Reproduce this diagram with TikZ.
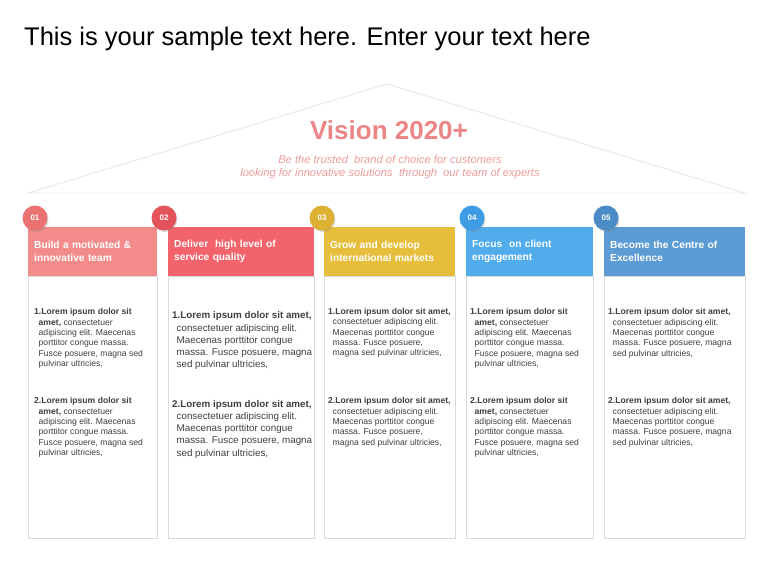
\documentclass[tikz,border=0pt]{standalone}
\usepackage{fontspec}
\setmainfont{Liberation Sans}
\usetikzlibrary{shadows}

\definecolor{headA}{HTML}{F38B8B}
\definecolor{dotA}{HTML}{EC7272}
\definecolor{headB}{HTML}{F2636B}
\definecolor{dotB}{HTML}{E4535B}
\definecolor{headC}{HTML}{E7BE3B}
\definecolor{dotC}{HTML}{DCB132}
\definecolor{headD}{HTML}{51ACEB}
\definecolor{dotD}{HTML}{3E9CE4}
\definecolor{headE}{HTML}{5B9CD4}
\definecolor{dotE}{HTML}{4B8BC6}
\definecolor{visionred}{HTML}{EC8686}
\definecolor{visionsub}{HTML}{EE9C9C}
\definecolor{bodygray}{HTML}{3F3F3F}

\newcommand{\hind}{\hspace*{4.5pt}}

\begin{document}
\begin{tikzpicture}[
        x=1pt, y=-1pt,
        roof/.style={draw=gray!18, line width=0.9pt, line join=miter},
        headbox/.style={
            shape=rectangle,
            anchor=north west,
            minimum height=49,
            inner xsep=6, inner ysep=0,
            align=left,
            text=white,
            font=\bfseries\fontsize{10.2}{13}\selectfont
        },
        bodybox/.style={
            shape=rectangle,
            anchor=north west,
            draw=gray!28, line width=0.6pt,
            fill=white,
            drop shadow={shadow xshift=0.8pt, shadow yshift=-0.8pt, opacity=0.12}
        },
        numdot/.style={
            shape=circle,
            minimum size=25,
            inner sep=0,
            text=white,
            font=\bfseries\fontsize{8}{8}\selectfont,
            drop shadow={shadow xshift=1pt, shadow yshift=-1.5pt, opacity=0.3}
        },
        bodytext/.style={
            anchor=north west,
            inner sep=0,
            align=left,
            text=bodygray,
            font=\fontsize{8.6}{10.3}\selectfont
        },
        bigtext/.style={
            bodytext,
            font=\fontsize{9.8}{12.2}\selectfont
        }
    ]

    \useasboundingbox (0,0) rectangle (768,576);

    % TITLE
    \node[anchor=base west, inner sep=0, font=\fontsize{25.5}{30}\selectfont] (title)
        at (24,45) {This is your sample text here. Enter your text here};

    % ROOF
    \coordinate (roofL) at (28,193);
    \coordinate (roofT) at (387,84);
    \coordinate (roofR) at (745,193);
    \draw[roof] (roofL) -- (roofT) -- (roofR) -- cycle;

    \node[text=visionred, font=\bfseries\fontsize{26}{28}\selectfont] (vision)
        at (389,130) {Vision 2020+};
    \node[text=visionsub, align=center, font=\itshape\fontsize{11.2}{13}\selectfont] (motto)
        at (390,167.5) {Be the trusted \ brand of choice for customers\\
                      looking for innovative solutions \ through \ our team of experts};

    % COLUMN 1
    \node[bodybox, minimum width=129, minimum height=262] (body1) at (28,276) {};
    \node[headbox, fill=headA, text width=117] (head1) at (28,227)
        {Build a motivated \&\\innovative team};
    \node[numdot, fill=dotA] (dot1) at (35,218) {01};
    \node[bodytext] (txt1a) at (34,308.5) {\textbf{1.Lorem ipsum dolor sit}\\
        \hind\textbf{amet,} consectetuer\\
        \hind adipiscing elit. Maecenas\\
        \hind porttitor congue massa.\\
        \hind Fusce posuere, magna sed\\
        \hind pulvinar ultricies,};
    \node[bodytext] (txt1b) at (34,397.5) {\textbf{2.Lorem ipsum dolor sit}\\
        \hind\textbf{amet,} consectetuer\\
        \hind adipiscing elit. Maecenas\\
        \hind porttitor congue massa.\\
        \hind Fusce posuere, magna sed\\
        \hind pulvinar ultricies,};

    % COLUMN 2
    \node[bodybox, minimum width=146, minimum height=262] (body2) at (168,276) {};
    \node[headbox, fill=headB, text width=134] (head2) at (168,227)
        {Deliver \ high level of\\service quality};
    \node[numdot, fill=dotB] (dot2) at (164,218) {02};
    \node[bigtext] (txt2a) at (172,311.5) {\textbf{1.Lorem ipsum dolor sit amet,}\\
        \hind consectetuer adipiscing elit.\\
        \hind Maecenas porttitor congue\\
        \hind massa. Fusce posuere, magna\\
        \hind sed pulvinar ultricies,};
    \node[bigtext] (txt2b) at (172,400) {\textbf{2.Lorem ipsum dolor sit amet,}\\
        \hind consectetuer adipiscing elit.\\
        \hind Maecenas porttitor congue\\
        \hind massa. Fusce posuere, magna\\
        \hind sed pulvinar ultricies,};

    % COLUMN 3
    \node[bodybox, minimum width=131, minimum height=262] (body3) at (324,276) {};
    \node[headbox, fill=headC, text width=119] (head3) at (324,227)
        {Grow and develop\\international markets};
    \node[numdot, fill=dotC] (dot3) at (322,218) {03};
    \node[bodytext] (txt3a) at (328,308) {\textbf{1.Lorem ipsum dolor sit amet,}\\
        \hind consectetuer adipiscing elit.\\
        \hind Maecenas porttitor congue\\
        \hind massa. Fusce posuere,\\
        \hind magna sed pulvinar ultricies,};
    \node[bodytext] (txt3b) at (328,397.5) {\textbf{2.Lorem ipsum dolor sit amet,}\\
        \hind consectetuer adipiscing elit.\\
        \hind Maecenas porttitor congue\\
        \hind massa. Fusce posuere,\\
        \hind magna sed pulvinar ultricies,};

    % COLUMN 4
    \node[bodybox, minimum width=127, minimum height=262] (body4) at (466,276) {};
    \node[headbox, fill=headD, text width=115] (head4) at (466,227)
        {Focus \ on client\\engagement};
    \node[numdot, fill=dotD] (dot4) at (472,218) {04};
    \node[bodytext] (txt4a) at (470,308.5) {\textbf{1.Lorem ipsum dolor sit}\\
        \hind\textbf{amet,} consectetuer\\
        \hind adipiscing elit. Maecenas\\
        \hind porttitor congue massa.\\
        \hind Fusce posuere, magna sed\\
        \hind pulvinar ultricies,};
    \node[bodytext] (txt4b) at (470,397.5) {\textbf{2.Lorem ipsum dolor sit}\\
        \hind\textbf{amet,} consectetuer\\
        \hind adipiscing elit. Maecenas\\
        \hind porttitor congue massa.\\
        \hind Fusce posuere, magna sed\\
        \hind pulvinar ultricies,};

    % COLUMN 5
    \node[bodybox, minimum width=141, minimum height=262] (body5) at (604,276) {};
    \node[headbox, fill=headE, text width=129] (head5) at (604,227)
        {Become the Centre of\\Excellence};
    \node[numdot, fill=dotE] (dot5) at (606,218) {05};
    \node[bodytext] (txt5a) at (608,308.5) {\textbf{1.Lorem ipsum dolor sit amet,}\\
        \hind consectetuer adipiscing elit.\\
        \hind Maecenas porttitor congue\\
        \hind massa. Fusce posuere, magna\\
        \hind sed pulvinar ultricies,};
    \node[bodytext] (txt5b) at (608,397.5) {\textbf{2.Lorem ipsum dolor sit amet,}\\
        \hind consectetuer adipiscing elit.\\
        \hind Maecenas porttitor congue\\
        \hind massa. Fusce posuere, magna\\
        \hind sed pulvinar ultricies,};
\end{tikzpicture}
\end{document}
